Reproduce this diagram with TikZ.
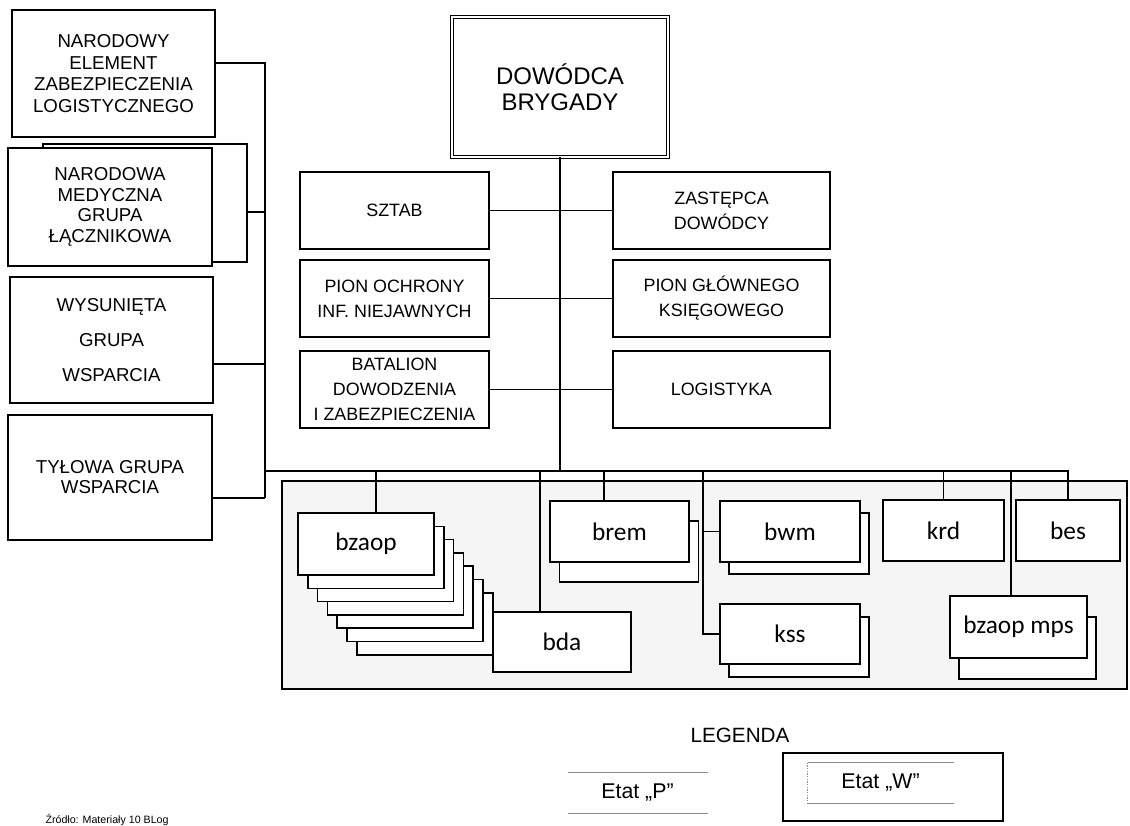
\documentclass[tikz,border=0pt]{standalone}
\usepackage{fontspec}
\setmainfont{Liberation Sans}
\newfontfamily\unitfont{Carlito}

\tikzset{every picture/.style={line width=0.75pt}}
\tikzset{
  wh/.style 2 args={minimum width=#1*0.75pt,minimum height=#2*0.75pt},
  capsbox/.style={draw,fill=white,line width=1.1pt,align=center,inner sep=0.75pt,font=\fontsize{13.4}{18.75}\selectfont},
  leftbox/.style={capsbox,font=\fontsize{14}{16.3}\selectfont},
  unitbox/.style={draw,fill=white,line width=1.1pt,inner sep=0.75pt,font=\unitfont\fontsize{19}{22}\selectfont},
  shadowbox/.style={draw,fill=white,line width=1.1pt,inner sep=0pt},
  link/.style={line width=0.9pt},
  legline/.style={draw=black!45,line width=1pt}
}

\begin{document}
\begin{tikzpicture}[x=0.75pt,y=0.75pt,yscale=-1,xscale=1]
\useasboundingbox (0,0) rectangle (1130,825);

%Shape: Rectangle [frame of the battalions]
\draw [fill=black!4,line width=1.1pt] (282,481) rectangle (1127,689);

% Left column
\node [leftbox,wh={203}{127}] (ne) at (113.5,73.5) {NARODOWY\\ELEMENT\\ZABEZPIECZENIA\\LOGISTYCZNEGO};
\node [shadowbox,wh={204}{118}] (nmb) at (145,203) {};
\node [leftbox,wh={204}{118},font=\fontsize{14}{15.5}\selectfont] (nm) at (110,207) {NARODOWA\\MEDYCZNA\\GRUPA\\ŁĄCZNIKOWA};
\node [leftbox,wh={203}{126},font=\fontsize{14}{26}\selectfont] (ws) at (111.5,340) {WYSUNIĘTA\\GRUPA\\WSPARCIA};
\node [leftbox,wh={204}{125},font=\fontsize{14}{15}\selectfont] (ty) at (110,477.5) {TYŁOWA GRUPA\\WSPARCIA};

% Command
\node [draw,double,double distance=1.8pt,line width=0.6pt,fill=white,align=center,wh={216}{140},font=\fontsize{18}{19.5}\selectfont] (dow) at (560,87) {DOWÓDCA\\BRYGADY};
\node [capsbox,wh={189}{77}] (sz) at (394.5,210.5) {SZTAB};
\node [capsbox,wh={217}{77}] (zd) at (721.5,210.5) {ZASTĘPCA\\DOWÓDCY};
\node [capsbox,wh={189}{77}] (po) at (394.5,298.5) {PION OCHRONY\\INF. NIEJAWNYCH};
\node [capsbox,wh={217}{77}] (pg) at (721.5,298.5) {PION GŁÓWNEGO\\KSIĘGOWEGO};
\node [capsbox,wh={189}{77}] (bd) at (394.5,389.5) {BATALION\\DOWODZENIA\\I ZABEZPIECZENIA};
\node [capsbox,wh={217}{77}] (lg) at (721.5,389.5) {LOGISTYKA};

% Battalions
\foreach \k in {6,5,...,1}
  \node [shadowbox,wh={136}{62}] (bzb\k) at ({366+9.8*\k},{544+13.3*\k}) {};
\node [unitbox,wh={136}{62}] (bzaop) at (366,544) {bzaop};
\node [unitbox,wh={138}{60}] (bda) at (562,642) {bda};
\node [shadowbox,wh={139}{61}] (bremb) at (629,551.5) {};
\node [unitbox,wh={139}{61}] (brem) at (619.5,531.5) {brem};
\node [shadowbox,wh={140}{61}] (bwmb) at (799,543.5) {};
\node [unitbox,wh={140}{61}] (bwm) at (790,531.5) {bwm};
\node [shadowbox,wh={140}{60}] (kssb) at (799,647) {};
\node [unitbox,wh={140}{60}] (kss) at (790,634) {kss};
\node [unitbox,wh={121}{61}] (krd) at (943.5,530.5) {krd};
\node [unitbox,wh={104}{61}] (bes) at (1068,530.5) {bes};
\node [shadowbox,wh={137}{62}] (mpsb) at (1027.5,648) {};
\node [unitbox,wh={137}{62}] (mps) at (1018.5,627) {bzaop mps};

% Bus points
\coordinate (l1) at (265,63);
\coordinate (l2) at (265,212);
\coordinate (l3) at (265,364);
\coordinate (l4) at (265,498);
\coordinate (bl) at (265,471);
\coordinate (d1) at (376,471);
\coordinate (d2) at (540,471);
\coordinate (d3) at (604,471);
\coordinate (kv) at (703,471);
\coordinate (d5) at (1011,471);

%Straight Lines
\draw [link] (ne.east |- l1) -- (l1) -- (l4);
\draw [link] (nmb.east |- l2) -- (l2);
\draw [link] (ws.east |- l3) -- (l3);
\draw [link] (ty.east |- l4) -- (l4);
\draw [link] (bl) -- (bl -| bes.north) -- (bes.north);
\draw [link] (dow.south) -- (dow.south |- bl);
\draw [link] (sz.east) -- (zd.west);
\draw [link] (po.east) -- (pg.west);
\draw [link] (bd.east) -- (lg.west);
\draw [link] (d1) -- (d1 |- bzaop.north);
\draw [link] (d2) -- (d2 |- bda.north);
\draw [link] (d3) -- (d3 |- brem.north);
\draw [link] (kv) |- (kss.west);
\draw [link] (kv |- bwm.west) -- (bwm.west);
\draw [link] (krd.north |- bl) -- (krd.north);
\draw [link] (d5) -- (d5 |- mps.north);

% Legend
\node [font=\fontsize{15.5}{18}\selectfont] (leg) at (740,735) {LEGENDA};
\node [wh={139}{40},inner sep=0.75pt,font=\fontsize{16}{18}\selectfont] (etp) at (637.5,793) {Etat „P"};
\draw [legline] (etp.north west) -- (etp.north east);
\draw [legline] (etp.south west) -- (etp.south east);
\node [draw,line width=1.1pt,wh={220}{68}] (etwo) at (893,787) {};
\node [wh={145}{40},inner sep=0.75pt,font=\fontsize{16}{18}\selectfont] (etw) at (880.5,783) {Etat „W"};
\draw [legline] (etw.north west) -- (etw.north east);
\draw [legline] (etw.south west) -- (etw.south east);
\draw [legline,densely dotted] (etw.north west) -- (etw.south west);

% Text Node
\node [anchor=north west,inner sep=0pt,font=\fontsize{8}{9}\selectfont] (src) at (45,814) {Źródło: Materiały 10 BLog};
\end{tikzpicture}
\end{document}
